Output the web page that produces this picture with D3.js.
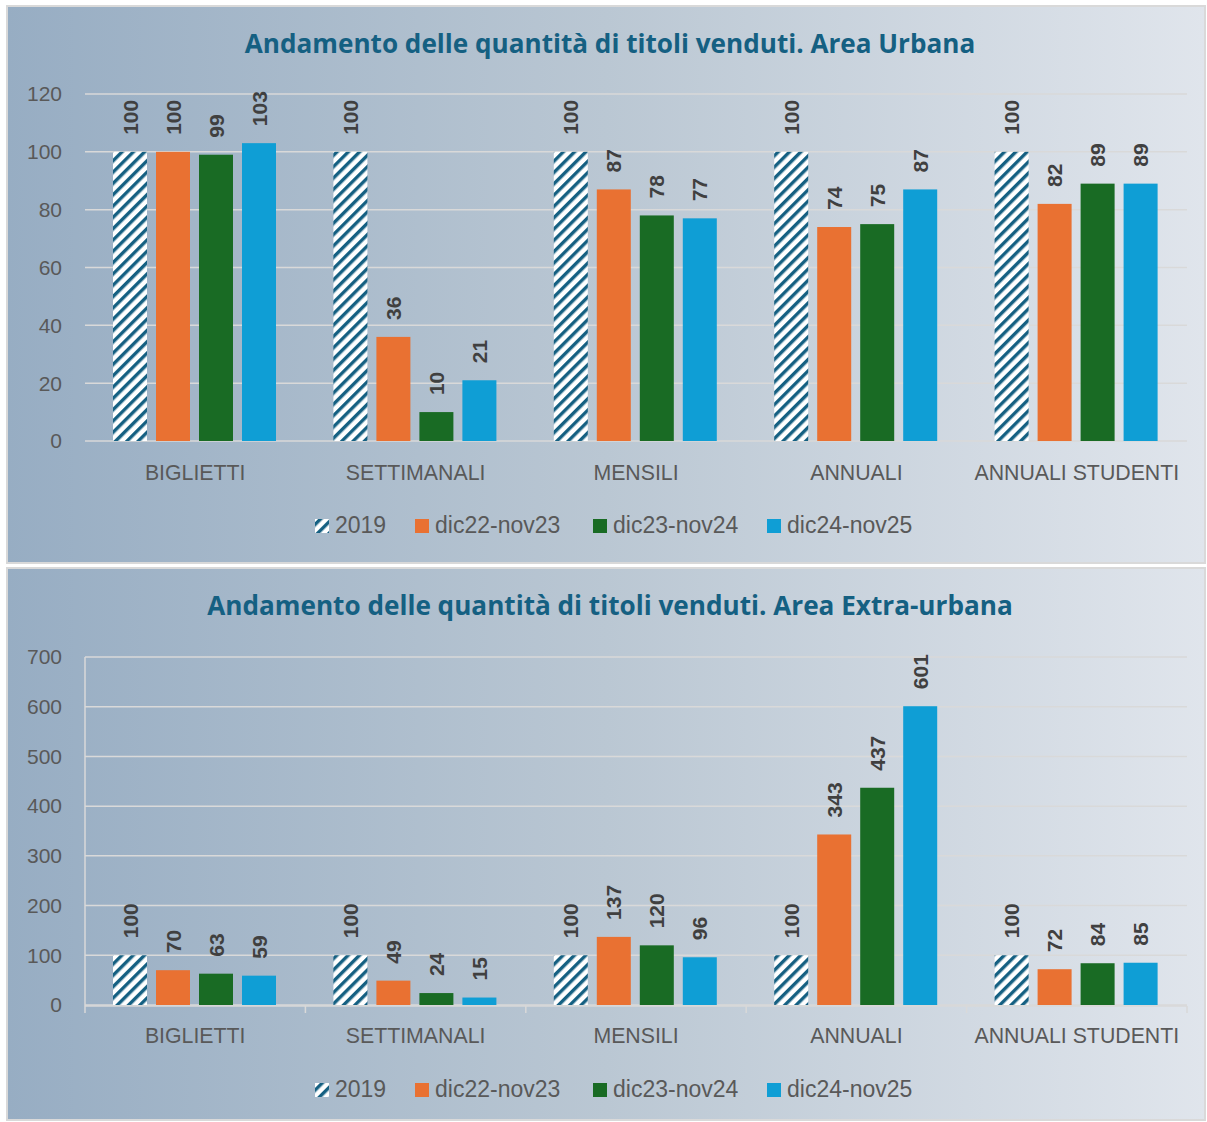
<!DOCTYPE html>
<html><head><meta charset="utf-8">
<script src="https://cdn.jsdelivr.net/npm/d3@7"></script>
<style>html,body{margin:0;padding:0;background:#fff;}svg{display:block;}</style>
</head><body>
<svg id="c" width="1207" height="1122"></svg>
<script>
const categories = ["BIGLIETTI","SETTIMANALI","MENSILI","ANNUALI","ANNUALI STUDENTI"];
const seriesNames = ["2019","dic22-nov23","dic23-nov24","dic24-nov25"];
const seriesColors = ["hatch","#E97132","#196B24","#0F9ED5"];

// Area Urbana
const urb2019   = [100,100,100,100,100];
const urb2223   = [100,36,87,74,82];
const urb2324   = [99,10,78,75,89];
const urb2425   = [103,21,77,87,89];
const urbTicks  = [0,20,40,60,80,100,120];

// Area Extra-urbana
const ext2019   = [100,100,100,100,100];
const ext2223   = [70,49,137,343,72];
const ext2324   = [63,24,120,437,84];
const ext2425   = [59,15,96,601,85];
const extTicks  = [0,100,200,300,400,500,600,700];

const titles = ["Andamento delle quantità di titoli venduti. Area Urbana",
                "Andamento delle quantità di titoli venduti. Area Extra-urbana"];

const svg = d3.select("#c");
const defs = svg.append("defs");
const grad = defs.append("linearGradient").attr("id","bg").attr("x1","0").attr("x2","1").attr("y1","0").attr("y2","0");
grad.append("stop").attr("offset","0%").attr("stop-color","#97adc3");
grad.append("stop").attr("offset","50%").attr("stop-color","#bac7d3");
grad.append("stop").attr("offset","100%").attr("stop-color","#e0e5ec");
const pat = defs.append("pattern").attr("id","hatch").attr("patternUnits","userSpaceOnUse")
  .attr("width",8).attr("height",8).attr("patternTransform","rotate(45)");
pat.append("rect").attr("width",8).attr("height",8).attr("fill","#ffffff");
pat.append("rect").attr("x",0).attr("width",3.4).attr("height",8).attr("fill","#156082");

const fill = c => c === "hatch" ? "url(#hatch)" : c;
const FONT = "'Liberation Sans', Arial, sans-serif";

function panel(cfg){
  const g = svg.append("g");
  g.append("rect").attr("x",cfg.px).attr("y",cfg.py).attr("width",cfg.pw).attr("height",cfg.ph)
    .attr("fill","url(#bg)").attr("stroke","#d9d9d9").attr("stroke-width",2);
  const t = g.append("text").attr("x",610).attr("y",cfg.titleY).attr("text-anchor","middle")
    .attr("font-family","'Open Sans', sans-serif").attr("font-weight",700).attr("font-size",25)
    .attr("fill","#156082").text(cfg.title);
  const tl = t.node().getComputedTextLength();
  t.attr("font-size", 25*cfg.titleW/tl);

  const x = d3.scaleBand().domain(categories).range([85,1187]).paddingInner(0).paddingOuter(0);
  const xs = d3.scaleBand().domain(seriesNames).range([28,191]).paddingInner(0.2093).paddingOuter(0);
  const y = d3.scaleLinear().domain([0,cfg.ticks[cfg.ticks.length-1]]).range([cfg.bottom,cfg.top]);

  // gridlines
  g.append("g").selectAll("line").data(cfg.ticks).join("line")
    .attr("x1",85).attr("x2",1187).attr("y1",d=>y(d)).attr("y2",d=>y(d))
    .attr("stroke","#d9d9d9").attr("stroke-width",1.5);
  // y labels
  g.append("g").selectAll("text").data(cfg.ticks).join("text")
    .attr("x",62).attr("y",d=>y(d)).attr("dy","0.35em").attr("text-anchor","end")
    .attr("font-family",FONT).attr("font-size",21).attr("fill","#595959").text(d=>d);

  if(cfg.axis){
    g.append("line").attr("x1",85).attr("x2",85).attr("y1",cfg.top).attr("y2",cfg.bottom+1)
      .attr("stroke","#d9d9d9").attr("stroke-width",1.5);
    const ax = d3.axisBottom(x).tickSize(0).tickFormat("");
    const axg = g.append("g").attr("transform",`translate(0,${cfg.bottom+1})`).call(ax);
    axg.select(".domain").attr("stroke","#d9d9d9").attr("stroke-width",1.5).attr("d",`M85,0H1187`);
    const bounds = categories.map(c=>x(c)).concat([1187]);
    g.append("g").selectAll("line").data(bounds).join("line")
      .attr("x1",d=>d).attr("x2",d=>d).attr("y1",cfg.bottom+1).attr("y2",cfg.bottom+8)
      .attr("stroke","#d9d9d9").attr("stroke-width",1.5);
  }

  // bars
  cfg.series.forEach((vals,si)=>{
    const sg = g.append("g");
    sg.selectAll("rect").data(vals).join("rect")
      .attr("x",(d,i)=>x(categories[i])+xs(seriesNames[si]))
      .attr("y",d=>y(d)).attr("width",xs.bandwidth()).attr("height",d=>y(0)-y(d))
      .attr("fill",fill(seriesColors[si]));
    sg.selectAll("text").data(vals).join("text")
      .attr("transform",(d,i)=>`translate(${x(categories[i])+xs(seriesNames[si])+xs.bandwidth()/2},${y(d)-17}) rotate(-90)`)
      .attr("dy","0.36em").attr("text-anchor","start")
      .attr("font-family",FONT).attr("font-weight",700).attr("font-size",21).attr("fill","#404040")
      .text(d=>d);
  });

  // category labels
  g.append("g").selectAll("text").data(categories).join("text")
    .attr("x",d=>x(d)+x.bandwidth()/2).attr("y",cfg.catY).attr("text-anchor","middle")
    .attr("font-family",FONT).attr("font-size",21.3).attr("fill","#595959").text(d=>d);

  // legend
  const legX = [315,415,593,767];
  const lg = g.append("g");
  seriesNames.forEach((s,i)=>{
    lg.append("rect").attr("x",legX[i]).attr("y",cfg.legY-14).attr("width",14).attr("height",14)
      .attr("fill",fill(seriesColors[i]));
    lg.append("text").attr("x",legX[i]+20).attr("y",cfg.legY)
      .attr("font-family",FONT).attr("font-size",23).attr("fill","#595959").text(s);
  });
}

panel({px:7,py:6,pw:1198,ph:557,title:titles[0],titleY:53,titleW:731,
  ticks:urbTicks,top:94,bottom:441,axis:false,catY:480,legY:533,
  series:[urb2019,urb2223,urb2324,urb2425]});
panel({px:7,py:568,pw:1198,ph:552,title:titles[1],titleY:615,titleW:806,
  ticks:extTicks,top:657,bottom:1005,axis:true,catY:1043,legY:1097,
  series:[ext2019,ext2223,ext2324,ext2425]});
</script>
</body></html>
